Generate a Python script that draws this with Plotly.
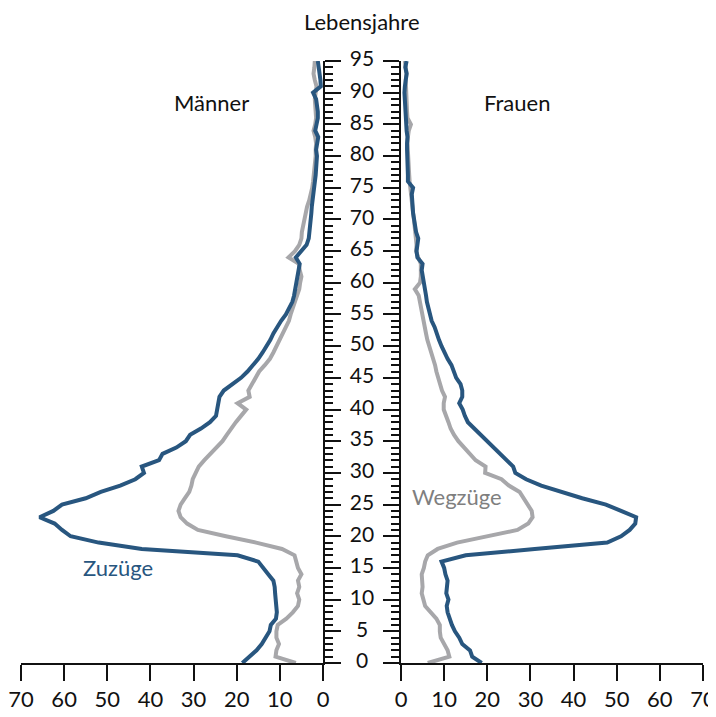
import plotly.graph_objects as go

ages = list(range(0, 96))

men_zuzuege = [
    18.7, 17.0, 15.4, 14.2, 13.2, 12.4, 12.1, 10.9, 10.7, 10.9,
    11.0, 11.1, 11.2, 11.5, 12.7, 13.9, 15.0, 19.8, 42.0, 52.0,
    58.5, 60.5, 62.2, 65.7, 62.5, 60.5, 55.0, 51.5, 47.0, 43.5,
    41.5, 42.0, 38.0, 37.2, 34.0, 31.8, 30.8, 28.3, 26.2, 24.8,
    24.5, 24.3, 24.0, 23.0, 21.0, 19.0, 17.5, 16.2, 15.0, 14.0,
    13.0, 12.2, 11.5, 10.7, 9.7, 8.6, 7.8, 7.1, 6.7, 6.4,
    6.1, 5.9, 5.6, 5.4, 6.3, 5.0, 3.8, 3.3, 3.1, 3.0,
    2.8, 2.7, 2.6, 2.4, 2.2, 1.9, 1.9, 1.7, 1.6, 1.4,
    1.4, 1.6, 1.4, 1.1, 1.8, 1.4, 1.2, 1.2, 1.4, 1.6,
    2.3, 0.5, 0.6, 0.9, 1.0, 1.2,
]

men_wegzuege = [
    6.3, 11.0, 10.8, 10.2, 10.8, 10.8, 10.5, 8.5, 7.0, 5.8,
    5.5, 6.0, 5.5, 5.8, 5.0, 5.8, 6.2, 6.6, 9.5, 15.5,
    22.5, 29.0, 31.5, 33.0, 33.5, 33.0, 32.0, 31.0, 30.5, 30.2,
    29.5, 28.8, 27.5, 26.0, 24.5, 23.3, 22.3, 21.3, 20.2, 19.0,
    17.8, 19.8, 17.0, 17.3, 16.5, 15.8, 14.8, 13.5, 12.3, 11.5,
    10.8, 10.0, 9.3, 8.7, 7.9, 7.5, 7.0, 6.3, 5.8, 5.5,
    5.3, 5.0, 5.4, 5.6, 8.0, 6.5, 5.5, 5.0, 4.9, 4.6,
    4.4, 4.2, 3.7, 3.2, 2.8, 2.5, 2.3, 2.1, 1.9, 1.8,
    1.7, 1.7, 1.6, 1.8, 2.2, 1.8, 1.6, 1.7, 1.8, 1.9,
    1.7, 1.5, 1.9, 2.2, 2.0, 1.9,
]

women_zuzuege = [
    18.7, 16.5, 16.0, 14.2, 13.5, 12.5, 11.8, 11.2, 10.8, 10.6,
    11.0, 10.5, 10.6, 10.8, 10.3, 10.0, 9.4, 15.0, 31.0, 47.8,
    51.0, 53.0, 54.3, 54.5, 51.0, 47.5, 42.0, 37.0, 32.5, 29.0,
    26.5, 26.0, 24.5, 23.0, 21.5, 20.0, 18.5, 17.0, 15.5, 14.8,
    14.3, 13.5, 14.2, 14.2, 13.8, 12.8, 12.2, 11.7, 10.8, 10.0,
    9.4, 8.8, 8.4, 7.8, 7.1, 6.7, 6.3, 6.0, 5.8, 5.6,
    5.4, 5.1, 4.8, 5.0, 3.8, 3.6, 3.8, 4.0, 3.5, 3.2,
    2.9, 2.8, 2.7, 2.6, 2.5, 2.8, 1.6, 1.6, 1.5, 1.5,
    1.5, 1.4, 1.4, 1.5, 1.3, 1.2, 1.2, 1.0, 0.9, 0.9,
    0.8, 0.9, 1.0, 1.3, 1.0, 1.3,
]

women_wegzuege = [
    6.2, 11.2, 10.8, 10.0, 9.2, 9.0, 9.0, 8.2, 6.8, 5.6,
    5.2, 4.8, 5.0, 4.9, 4.8, 5.3, 5.6, 6.2, 8.5, 13.0,
    20.0, 27.0, 29.5, 30.5, 30.3, 29.3, 28.5, 27.5, 25.0, 23.3,
    19.5, 19.6, 17.3, 16.0, 14.5, 13.3, 12.3, 11.5, 11.0, 10.5,
    9.9, 9.9, 10.2, 9.5, 9.0, 8.6, 8.2, 7.9, 7.4, 6.9,
    6.5, 6.1, 5.8, 5.5, 5.1, 4.8, 4.6, 4.4, 4.1, 3.2,
    4.4, 4.6, 4.7, 4.6, 4.0, 3.5, 3.6, 3.5, 3.3, 3.1,
    3.0, 2.8, 2.6, 2.5, 2.4, 2.2, 2.0, 1.9, 1.8, 1.7,
    1.7, 1.6, 1.5, 1.6, 1.8, 2.3, 1.5, 1.4, 1.3, 1.2,
    1.2, 1.0, 1.1, 1.3, 1.2, 0.9,
]

age_tick_values = list(range(0, 96, 5))
age_tick_labels = [str(v) for v in age_tick_values]
x_tick_values = list(range(0, 71, 10))

BLUE = "#28567f"
GRAY = "#a7a7aa"
FONT = "Lato"
TXT = "#111111"

fig = go.Figure()

# Left panel (Männer)
fig.add_trace(go.Scatter(x=men_wegzuege, y=ages, mode="lines",
                         line=dict(color=GRAY, width=4), xaxis="x", yaxis="y",
                         showlegend=False, hoverinfo="skip"))
fig.add_trace(go.Scatter(x=men_zuzuege, y=ages, mode="lines",
                         line=dict(color=BLUE, width=4), xaxis="x", yaxis="y",
                         showlegend=False, hoverinfo="skip"))
# Right panel (Frauen)
fig.add_trace(go.Scatter(x=women_wegzuege, y=ages, mode="lines",
                         line=dict(color=GRAY, width=4), xaxis="x2", yaxis="y2",
                         showlegend=False, hoverinfo="skip"))
fig.add_trace(go.Scatter(x=women_zuzuege, y=ages, mode="lines",
                         line=dict(color=BLUE, width=4), xaxis="x2", yaxis="y2",
                         showlegend=False, hoverinfo="skip"))
# Centre age labels
fig.add_trace(go.Scatter(x=[0] * len(age_tick_values), y=age_tick_values,
                         text=age_tick_labels, mode="text",
                         textposition="middle center",
                         textfont=dict(family=FONT, size=21, color=TXT),
                         xaxis="x3", yaxis="y", cliponaxis=False,
                         showlegend=False, hoverinfo="skip"))

# The page body adds an 8px offset, so the figure is sized to fit the window
W, H = 708, 709
ml, mr, mt, mb = 13, 13, 53, 54
pw = W - ml - mr
ph = H - mt - mb
left_end = 302 / pw
right_start = 380 / pw

xcommon = dict(
    tickmode="array", tickvals=x_tick_values,
    ticks="outside", ticklen=16, tickwidth=2, tickcolor=TXT,
    showline=True, linewidth=2, linecolor=TXT,
    showgrid=False, zeroline=False, automargin=False,
    tickfont=dict(family=FONT, size=22, color=TXT),
    ticklabelstandoff=0,
)
ycommon = dict(
    range=[0, 95], showgrid=False, zeroline=False, automargin=False,
    showline=True, linewidth=2, linecolor=TXT,
    ticks="outside", tickmode="linear", tick0=0, dtick=5,
    ticklen=16, tickwidth=2, tickcolor=TXT,
    showticklabels=False,
    minor=dict(ticks="outside", dtick=1, tick0=0, ticklen=8, tickwidth=1.5,
               tickcolor=TXT, showgrid=False),
)

fig.update_layout(
    width=W, height=H, autosize=False,
    margin=dict(l=ml, r=mr, t=mt, b=mb, pad=0, autoexpand=False),
    paper_bgcolor="white", plot_bgcolor="white",
    font=dict(family=FONT, size=22, color=TXT),
    xaxis=dict(domain=[0, left_end], range=[70, 0], anchor="y", **xcommon),
    xaxis2=dict(domain=[right_start, 1], range=[0, 70], anchor="y2", **xcommon),
    xaxis3=dict(domain=[left_end, right_start], range=[-1, 1], anchor="y",
                visible=False, automargin=False),
    yaxis=dict(anchor="x", side="right", **ycommon),
    yaxis2=dict(anchor="x2", side="left", **ycommon),
    annotations=[
        dict(text="Lebensjahre", xref="paper", yref="paper",
             x=341 / pw, y=1 + 40 / ph,
             xanchor="center", yanchor="middle", showarrow=False,
             font=dict(family=FONT, size=22, color=TXT)),
        dict(text="Männer", xref="x", yref="y", x=25.8, y=88.5,
             xanchor="center", yanchor="middle", showarrow=False,
             font=dict(family=FONT, size=22, color=TXT)),
        dict(text="Frauen", xref="x2", yref="y2", x=26.9, y=88.5,
             xanchor="center", yanchor="middle", showarrow=False,
             font=dict(family=FONT, size=22, color=TXT)),
        dict(text="Zuzüge", xref="x", yref="y", x=47.6, y=15.1,
             xanchor="center", yanchor="middle", showarrow=False,
             font=dict(family=FONT, size=22, color=BLUE)),
        dict(text="Wegzüge", xref="x2", yref="y2", x=13.0, y=26.2,
             xanchor="center", yanchor="middle", showarrow=False,
             font=dict(family=FONT, size=22, color="#7f7f7f")),
    ],
)

fig.write_html("out.html")
